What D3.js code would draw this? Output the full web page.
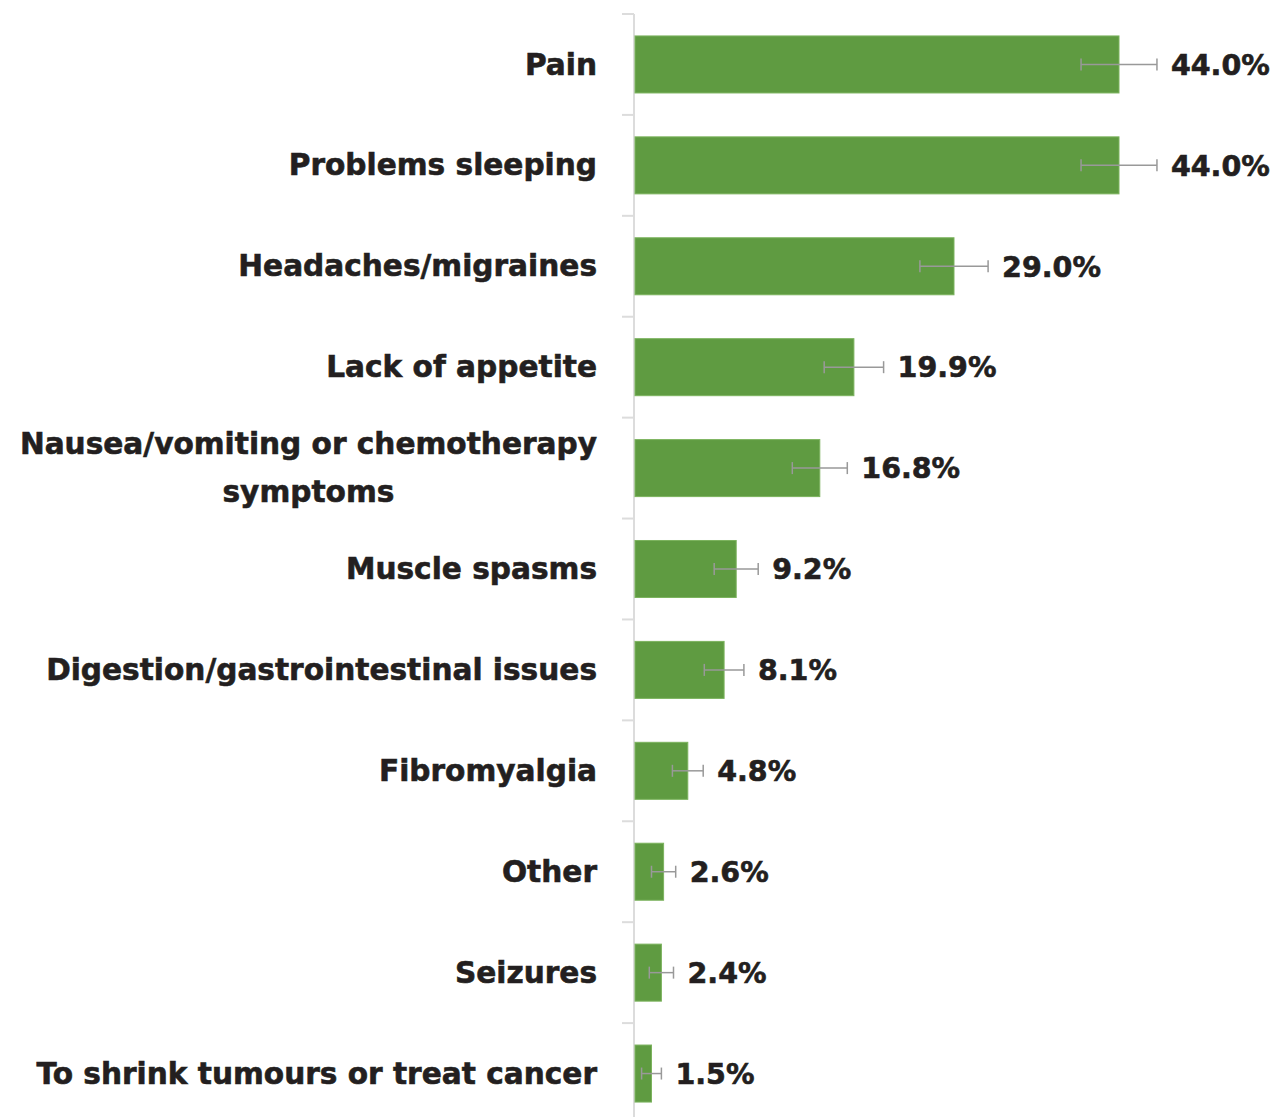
<!DOCTYPE html>
<html>
<head>
<meta charset="utf-8">
<script src="https://cdn.jsdelivr.net/npm/d3@7"></script>
<style>
  body { margin: 0; background: #fff; }
  text { font-family: "DejaVu Sans", sans-serif; font-weight: bold; fill: #231f20; stroke: #231f20; stroke-width: 0.6px; }
</style>
</head>
<body>
<div id="chart"></div>
<script>
    // categories, shares (%) and the half-width of the error bars (%)
    var categories = [
        ["Pain"],
        ["Problems sleeping"],
        ["Headaches/migraines"],
        ["Lack of appetite"],
        ["Nausea/vomiting or chemotherapy", "symptoms"],
        ["Muscle spasms"],
        ["Digestion/gastrointestinal issues"],
        ["Fibromyalgia"],
        ["Other"],
        ["Seizures"],
        ["To shrink tumours or treat cancer"]
    ];
    var values = [44.0, 44.0, 29.0, 19.9, 16.8, 9.2, 8.1, 4.8, 2.6, 2.4, 1.5];
    var errors = [3.45, 3.45, 3.1, 2.7, 2.5, 2.0, 1.8, 1.4, 1.1, 1.1, 0.9];
    var valueLabels = ["44.0%", "44.0%", "29.0%", "19.9%", "16.8%", "9.2%", "8.1%", "4.8%", "2.6%", "2.4%", "1.5%"];

    var width = 1286, height = 1117;
    var left = 635;

    var rows = categories.map(function (c, i) {
        return {key: "r" + i, lines: c, value: values[i], err: errors[i], label: valueLabels[i]};
    });

    var svg = d3.select("#chart").append("svg")
        .attr("width", width)
        .attr("height", height);

    var x = d3.scaleLinear().domain([0, 44]).range([left, 1119]);

    var y = d3.scaleBand()
        .domain(rows.map(function (d) { return d.key; }))
        .range([14, 1124])
        .paddingInner(0.435)
        .paddingOuter(0.2175);

    var step = y.step();

    // axis line + ticks between the categories
    svg.append("line")
        .attr("x1", left - 1).attr("x2", left - 1)
        .attr("y1", 14).attr("y2", height)
        .attr("stroke", "#dcdcdc").attr("stroke-width", 2);

    svg.append("g").selectAll("line")
        .data(rows)
        .enter().append("line")
        .attr("x1", left - 13).attr("x2", left - 1)
        .attr("y1", function (d) { return y(d.key) - step * y.paddingOuter(); })
        .attr("y2", function (d) { return y(d.key) - step * y.paddingOuter(); })
        .attr("stroke", "#dcdcdc").attr("stroke-width", 2);

    // bars
    svg.append("g").selectAll("rect")
        .data(rows)
        .enter().append("rect")
        .attr("x", x(0))
        .attr("y", function (d) { return y(d.key); })
        .attr("width", function (d) { return x(d.value) - x(0); })
        .attr("height", y.bandwidth())
        .attr("fill", "#5f9b41")
        .attr("stroke", "#7cb35e")
        .attr("stroke-width", 1);

    // error bars
    var err = svg.append("g").selectAll("g")
        .data(rows)
        .enter().append("g")
        .attr("stroke", "#999999")
        .attr("stroke-width", 1.5);

    err.append("line")
        .attr("x1", function (d) { return x(d.value - d.err); })
        .attr("x2", function (d) { return x(d.value + d.err); })
        .attr("y1", function (d) { return y(d.key) + y.bandwidth() / 2; })
        .attr("y2", function (d) { return y(d.key) + y.bandwidth() / 2; });

    [-1, 1].forEach(function (s) {
        err.append("line")
            .attr("x1", function (d) { return x(d.value + s * d.err); })
            .attr("x2", function (d) { return x(d.value + s * d.err); })
            .attr("y1", function (d) { return y(d.key) + y.bandwidth() / 2 - 6; })
            .attr("y2", function (d) { return y(d.key) + y.bandwidth() / 2 + 6; });
    });

    // value labels
    svg.append("g").selectAll("text")
        .data(rows)
        .enter().append("text")
        .attr("x", function (d) { return x(d.value + d.err) + 14; })
        .attr("y", function (d) { return y(d.key) + y.bandwidth() / 2; })
        .attr("dy", "0.36em")
        .attr("font-size", 28.5)
        .text(function (d) { return d.label; });

    // category labels, right aligned, multi-line ones centred in their block
    var lab = svg.append("g").selectAll("text")
        .data(rows)
        .enter().append("text")
        .attr("font-size", 29.6)
        .attr("y", function (d) { return y(d.key) + y.bandwidth() / 2; });

    lab.each(function (d) {
        var t = d3.select(this);
        var n = d.lines.length;
        d.lines.forEach(function (line, k) {
            t.append("tspan")
                .attr("x", 597)
                .attr("y", y(d.key) + y.bandwidth() / 2 + (k - (n - 1) / 2) * 48)
                .attr("dy", "0.34em")
                .attr("text-anchor", "end")
                .text(line);
        });
        if (n > 1) {
            var w = 0;
            t.selectAll("tspan").each(function () { w = Math.max(w, this.getComputedTextLength()); });
            t.selectAll("tspan")
                .attr("x", 597 - w / 2)
                .attr("text-anchor", "middle");
        }
    });
</script>
</body>
</html>
